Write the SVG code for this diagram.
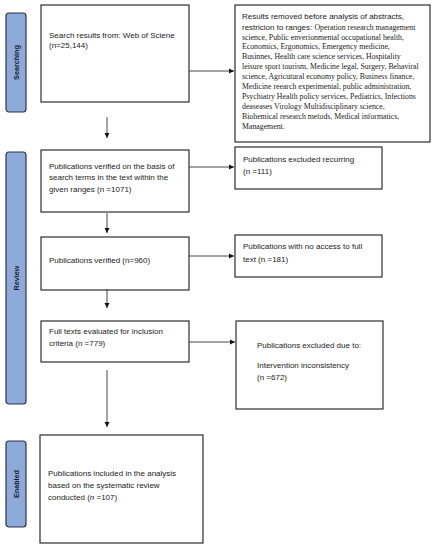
<svg xmlns="http://www.w3.org/2000/svg" width="437" height="550" viewBox="0 0 437 550">
<style>
.box{fill:#fff;stroke:#1a1a1a;stroke-width:1.1}
.side{fill:#8eaadb;stroke:#2b3548;stroke-width:1.2}
.t{font-family:"Liberation Sans",Arial,sans-serif;font-size:8px;fill:#222}
.s{font-family:"Liberation Serif","Times New Roman",serif;font-size:7.8px;fill:#222}
.lab{font-family:"Liberation Sans",Arial,sans-serif;font-size:7.2px;font-weight:bold;fill:#1a1a2a;text-anchor:middle}
.c{stroke:#333;stroke-width:0.9;fill:none;marker-end:url(#ah)}
</style>
<defs>
<marker id="ah" markerUnits="userSpaceOnUse" markerWidth="6" markerHeight="6" refX="5" refY="3" orient="auto">
<path d="M0,0.5 L5,3 L0,5.5 Z" fill="#111"/>
</marker>
</defs>

<g id="stage-searching">
<rect class="side" x="6" y="13" width="20" height="99" rx="3"/>
<text class="lab" transform="translate(18.5,62.5) rotate(-90)">Searching</text>
</g>
<g id="stage-review">
<rect class="side" x="6" y="152" width="20" height="252" rx="3"/>
<text class="lab" transform="translate(18.5,278) rotate(-90)">Review</text>
</g>
<g id="stage-enabled">
<rect class="side" x="6" y="441" width="20" height="86" rx="3"/>
<text class="lab" transform="translate(18.5,484) rotate(-90)">Enabled</text>
</g>

<g id="search-results">
<rect class="box" x="41" y="5" width="148" height="97"/>
<text class="t" x="49" y="37.5">Search results from: Web of Sciene</text>
<text class="t" x="49" y="48">(n=25,144)</text>
</g>

<g id="removed">
<rect class="box" x="235" y="5" width="195" height="137"/>
<text class="t" x="242" y="19" font-size="8.3">Results removed before analysis of abstracts,</text>
<text x="242" y="29.5"><tspan class="t" font-size="8.3">restricion to ranges: </tspan><tspan class="s">Operation research management</tspan></text>
<text class="s" x="242" y="39.5">science, Public enverionmental occupational health,</text>
<text class="s" x="242" y="49.4">Economics, Ergonomics, Emergency medicine,</text>
<text class="s" x="242" y="59.4">Businnes, Health care science services, Hospitality</text>
<text class="s" x="242" y="69.3">leisure sport tourism, Medicine legal, Surgery, Behaviral</text>
<text class="s" x="242" y="79.2">science, Agricutural economy policy, Business finance,</text>
<text class="s" x="242" y="89.2">Medicine reearch experimental, public administration,</text>
<text class="s" x="242" y="99.1">Psychiatry Health policy services, Pediatrics, Infections</text>
<text class="s" x="242" y="109">deaseases Virology Multidisciplinary science,</text>
<text class="s" x="242" y="119">Biohemical research metods, Medical informatics,</text>
<text class="s" x="242" y="129">Management.</text>
</g>

<g id="verified-terms">
<rect class="box" x="41" y="150" width="148" height="62"/>
<text class="t" x="49" y="168.5">Publications verified on the basis of</text>
<text class="t" x="49" y="180">search terms in the text within the</text>
<text class="t" x="49" y="191.5">given ranges (n =1071)</text>
</g>

<g id="excluded-recurring">
<rect class="box" x="235" y="147" width="147" height="42"/>
<text class="t" x="243" y="162">Publications excluded recurring</text>
<text class="t" x="243" y="174">(n =111)</text>
</g>

<g id="verified">
<rect class="box" x="41" y="237" width="148" height="53"/>
<text class="t" x="49" y="262.5">Publications verified (n=960)</text>
</g>

<g id="no-access">
<rect class="box" x="235" y="235" width="147" height="42"/>
<text class="t" x="243" y="248.5">Publications with no access to full</text>
<text class="t" x="243" y="261.5">text (n =181)</text>
</g>

<g id="full-texts">
<rect class="box" x="41" y="321" width="148" height="41"/>
<text class="t" x="49" y="333.5">Full texts evaluated for inclusion</text>
<text class="t" x="49" y="345.5">criteria (n =779)</text>
</g>

<g id="excluded-due">
<rect class="box" x="236" y="321" width="147" height="88"/>
<text class="t" x="257" y="347.5">Publications excluded due to:</text>
<text class="t" x="257" y="367.5">Intervention inconsistency</text>
<text class="t" x="257" y="379.5">(n =672)</text>
</g>

<g id="included">
<rect class="box" x="40" y="435" width="163" height="108"/>
<text class="t" x="48" y="475.5">Publications included in the analysis</text>
<text class="t" x="48" y="487.5">based on the systematic review</text>
<text class="t" x="48" y="499.5">conducted (<tspan font-style="italic">n</tspan> =107)</text>
</g>

<g id="connectors">
<line class="c" x1="189" y1="71" x2="234" y2="71"/>
<line class="c" x1="107" y1="117" x2="107" y2="138"/>
<line class="c" x1="189" y1="167" x2="234" y2="167"/>
<line class="c" x1="107" y1="213" x2="107" y2="233"/>
<line class="c" x1="189" y1="256" x2="234" y2="256"/>
<line class="c" x1="107" y1="289" x2="107" y2="308"/>
<line class="c" x1="189" y1="342" x2="235" y2="342"/>
<line class="c" x1="107" y1="370" x2="107" y2="427"/>
</g>
</svg>
